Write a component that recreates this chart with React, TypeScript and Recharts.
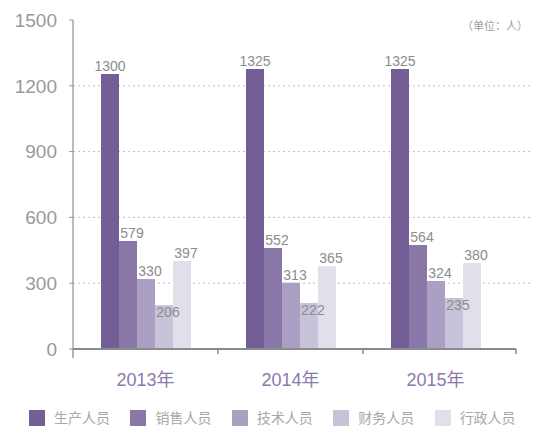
import React from 'react';
import { BarChart, Bar, XAxis, YAxis, CartesianGrid, Legend, LabelList } from 'recharts';

const years = ['2013年', '2014年', '2015年'];
const seriesNames = ['生产人员', '销售人员', '技术人员', '财务人员', '行政人员'];

// bar heights as drawn in the picture
const production = [1254, 1277, 1277];
const sales = [492, 461, 474];
const technical = [319, 302, 310];
const finance = [200, 210, 233];
const admin = [401, 377, 392];

// numbers printed on the bars
const productionLabels = ['1300', '1325', '1325'];
const salesLabels = ['579', '552', '564'];
const technicalLabels = ['330', '313', '324'];
const financeLabels = ['206', '222', '235'];
const adminLabels = ['397', '365', '380'];

const yTicks = [0, 300, 600, 900, 1200, 1500];
const gridValues = [300, 600, 900, 1200];

const colors = ['#735f96', '#8977a8', '#aba0c4', '#c8c2da', '#e2dfeb'];

const data = years.map((year, i) => ({
  year,
  production: production[i],
  sales: sales[i],
  technical: technical[i],
  finance: finance[i],
  admin: admin[i],
  productionLabel: productionLabels[i],
  salesLabel: salesLabels[i],
  technicalLabel: technicalLabels[i],
  financeLabel: financeLabels[i],
  adminLabel: adminLabels[i],
}));

const keys = ['production', 'sales', 'technical', 'finance', 'admin'];

const W = 536;
const H = 428;
const PAD_R = 24;
const PLOT_LEFT = 73;
const PLOT_RIGHT = 532;
const BAND = (PLOT_RIGHT - PLOT_LEFT - PAD_R) / years.length;
const FONT = '"Liberation Sans", "Noto Sans CJK SC", Arial, sans-serif';

const YearTick = (props: any) => {
  const { x, y, payload, index } = props;
  const left = x - BAND / 2;
  const last = index === years.length - 1;
  const right = x + BAND / 2 + (last ? 8 : 0);
  return (
    <g>
      <line x1={left} y1={y} x2={right} y2={y} stroke="#8a8a8a" strokeWidth={2} />
      <line x1={left} y1={y} x2={left} y2={y + (index === 0 ? 9 : 5)} stroke="#8a8a8a" strokeWidth={index === 0 ? 1.3 : 1.5} />
      {last && <line x1={right} y1={y} x2={right} y2={y + 5} stroke="#8a8a8a" strokeWidth={1.5} />}
      <text x={x} y={y + 37} textAnchor="middle" fill="#8b79ad" fontSize={18} fontFamily={FONT}>
        {payload.value}
      </text>
    </g>
  );
};

// legend keeps the series order (recharts would sort it)
const LegendContent = () => (
  <div style={{ display: 'flex', paddingLeft: 29, fontFamily: FONT }}>
    {seriesNames.map((name, i) => (
      <div key={name} style={{ display: 'flex', alignItems: 'center', width: 102.5 }}>
        <span style={{ width: 16, height: 16, background: colors[i], display: 'inline-block', marginRight: 9 }} />
        <span style={{ fontSize: 14, color: '#a8a8a8', lineHeight: '16px' }}>{name}</span>
      </div>
    ))}
  </div>
);

export default function App() {
  return (
    <div style={{ position: 'absolute', left: 0, top: 0, width: W, height: H, background: '#fff' }}>
      <div
        style={{
          position: 'absolute',
          left: 462,
          top: 17,
          fontSize: 11,
          color: '#a0a0a0',
          fontFamily: FONT,
          zIndex: 2,
        }}
      >
        （单位：人）
      </div>
      <BarChart
        width={W}
        height={H}
        data={data}
        margin={{ top: 20, right: W - PLOT_RIGHT, bottom: 39, left: 0 }}
        barGap={0}
        barCategoryGap={28}
      >
        <CartesianGrid
          horizontal
          vertical={false}
          horizontalValues={gridValues}
          stroke="#bdbdbd"
          strokeDasharray="2 3"
        />
        <XAxis
          dataKey="year"
          height={40}
          axisLine={false}
          tickLine={false}
          tickSize={0}
          tickMargin={0}
          padding={{ left: 0, right: PAD_R }}
          tick={<YearTick />}
          interval={0}
        />
        <YAxis
          width={PLOT_LEFT}
          domain={[0, 1500]}
          ticks={yTicks}
          interval={0}
          axisLine={{ stroke: '#9a9a9a', strokeWidth: 1.3 }}
          tickLine={{ stroke: '#9a9a9a' }}
          tickSize={4}
          tickMargin={12}
          tick={{ fill: '#999', fontSize: 19, fontFamily: FONT }}
        />
        <Legend
          verticalAlign="middle"
          align="center"
          layout="horizontal"
          content={<LegendContent />}
          wrapperStyle={{ top: 410, left: 0, width: W, height: 16 }}
        />
        {keys.map((k, i) => (
          <Bar key={k} dataKey={k} name={seriesNames[i]} fill={colors[i]} isAnimationActive={false}>
            <LabelList
              dataKey={`${k}Label`}
              position={i === 3 ? 'insideTop' : 'top'}
              offset={i === 3 ? 2 : 3}
              dx={i === 0 ? 0 : 4}
              fill="#8c8c8c"
              fontSize={14}
              fontFamily={FONT}
            />
          </Bar>
        ))}
      </BarChart>
    </div>
  );
}
